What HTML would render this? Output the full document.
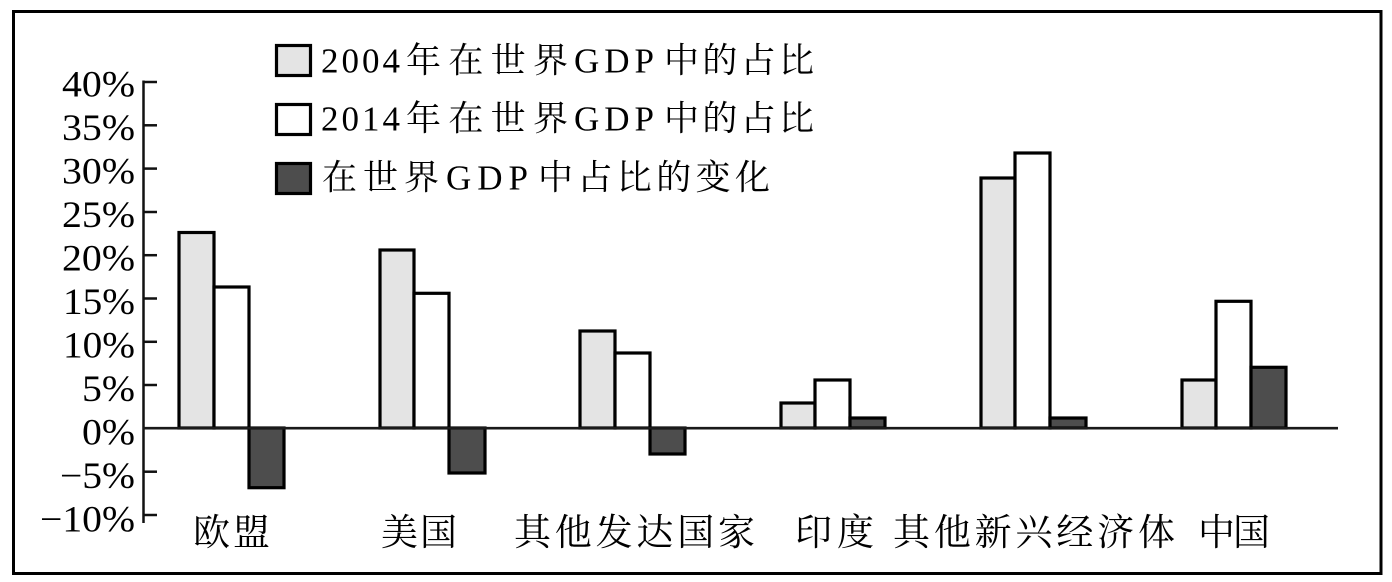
<!DOCTYPE html>
<html>
<head>
<meta charset="utf-8">
<style>
  html, body { margin:0; padding:0; background:#fff; }
  body { width:1392px; height:582px; overflow:hidden; font-family: "Liberation Serif", "Noto Serif CJK SC", serif; }
  svg { display:block; }
  svg text { font-family: "Liberation Serif", "Noto Serif CJK SC", "Times New Roman", serif; fill:#000; }
</style>
</head>
<body>
<svg width="1392" height="582" viewBox="0 0 1392 582" xmlns="http://www.w3.org/2000/svg">
  <rect x="0" y="0" width="1392" height="582" fill="#fff"/>
  <!-- outer frame -->
  <rect x="13.5" y="11.5" width="1367.5" height="562" fill="none" stroke="#000" stroke-width="3"/>

  <!-- y axis -->
  <line x1="143.5" y1="80.5" x2="143.5" y2="523" stroke="#111" stroke-width="2.5"/>
  <g stroke="#111" stroke-width="2.5">
    <line x1="143" y1="82" x2="157" y2="82"/>
    <line x1="143" y1="125.3" x2="157" y2="125.3"/>
    <line x1="143" y1="168.6" x2="157" y2="168.6"/>
    <line x1="143" y1="212" x2="157" y2="212"/>
    <line x1="143" y1="255.2" x2="157" y2="255.2"/>
    <line x1="143" y1="298.5" x2="157" y2="298.5"/>
    <line x1="143" y1="341.8" x2="157" y2="341.8"/>
    <line x1="143" y1="385" x2="157" y2="385"/>
    <line x1="143" y1="471.7" x2="157" y2="471.7"/>
    <line x1="143" y1="515" x2="157" y2="515"/>
  </g>

  <!-- y labels -->
  <g font-family="Liberation Serif, Times New Roman, serif" font-size="37" fill="#000">
    <text x="62" y="96.5" textLength="73" lengthAdjust="spacingAndGlyphs">40%</text>
    <text x="62" y="140" textLength="73" lengthAdjust="spacingAndGlyphs">35%</text>
    <text x="62" y="183.5" textLength="73" lengthAdjust="spacingAndGlyphs">30%</text>
    <text x="62" y="227" textLength="73" lengthAdjust="spacingAndGlyphs">25%</text>
    <text x="62" y="270.5" textLength="73" lengthAdjust="spacingAndGlyphs">20%</text>
    <text x="63" y="314" textLength="72" lengthAdjust="spacingAndGlyphs">15%</text>
    <text x="63" y="357.5" textLength="72" lengthAdjust="spacingAndGlyphs">10%</text>
    <text x="82" y="401" textLength="53" lengthAdjust="spacingAndGlyphs">5%</text>
    <text x="82" y="444.5" textLength="53" lengthAdjust="spacingAndGlyphs">0%</text>
    <text x="60" y="488" textLength="75" lengthAdjust="spacingAndGlyphs">−5%</text>
    <text x="40" y="531.5" textLength="95" lengthAdjust="spacingAndGlyphs">−10%</text>
  </g>

  <!-- bars -->
  <g stroke="#000" stroke-width="3.2">
    <!-- EU -->
    <rect x="179" y="232.5" width="35" height="195.5" fill="#e4e4e4"/>
    <rect x="214" y="287" width="35" height="141" fill="#ffffff"/>
    <rect x="249" y="428" width="35" height="59.7" fill="#4d4d4d"/>
    <!-- US -->
    <rect x="380" y="250" width="34" height="178" fill="#e4e4e4"/>
    <rect x="414" y="293.3" width="35" height="134.7" fill="#ffffff"/>
    <rect x="449" y="428" width="36" height="45" fill="#4d4d4d"/>
    <!-- Other developed -->
    <rect x="580" y="331" width="35" height="97" fill="#e4e4e4"/>
    <rect x="615" y="353" width="35" height="75" fill="#ffffff"/>
    <rect x="650" y="428" width="35" height="26" fill="#4d4d4d"/>
    <!-- India -->
    <rect x="781" y="403" width="34" height="25" fill="#e4e4e4"/>
    <rect x="815" y="380" width="35" height="48" fill="#ffffff"/>
    <rect x="850" y="418" width="35" height="10" fill="#4d4d4d"/>
    <!-- Other emerging -->
    <rect x="981" y="178" width="34" height="250" fill="#e4e4e4"/>
    <rect x="1015" y="153" width="35" height="275" fill="#ffffff"/>
    <rect x="1050" y="418" width="36" height="10" fill="#4d4d4d"/>
    <!-- China -->
    <rect x="1182" y="380" width="34" height="48" fill="#e4e4e4"/>
    <rect x="1216" y="301.3" width="35" height="126.7" fill="#ffffff"/>
    <rect x="1251" y="367.3" width="35" height="60.7" fill="#4d4d4d"/>
  </g>

  <!-- zero line -->
  <line x1="143" y1="428.2" x2="1338" y2="428.2" stroke="#1a1a1a" stroke-width="2.6"/>

  <!-- legend -->
  <g stroke="#000" stroke-width="3.2">
    <rect x="276.5" y="45.5" width="34" height="30" fill="#e4e4e4"/>
    <rect x="276.5" y="104.5" width="34" height="30" fill="#ffffff"/>
    <rect x="276.5" y="163.5" width="34" height="30" fill="#4d4d4d"/>
  </g>
  <g font-family="Liberation Serif, Noto Serif CJK SC, serif" font-size="35" fill="#000">
    <text x="321" y="72.5" textLength="79" lengthAdjust="spacing">2004</text>
    <text x="406" y="72.5" textLength="162" lengthAdjust="spacing">年在世界</text>
    <text x="574" y="72.5" textLength="80" lengthAdjust="spacing">GDP</text>
    <text x="664" y="72.5" textLength="150" lengthAdjust="spacing">中的占比</text>

    <text x="321" y="130.5" textLength="79" lengthAdjust="spacing">2014</text>
    <text x="406" y="130.5" textLength="162" lengthAdjust="spacing">年在世界</text>
    <text x="574" y="130.5" textLength="80" lengthAdjust="spacing">GDP</text>
    <text x="664" y="130.5" textLength="150" lengthAdjust="spacing">中的占比</text>

    <text x="322" y="189.5" textLength="117" lengthAdjust="spacing">在世界</text>
    <text x="446" y="189.5" textLength="82" lengthAdjust="spacing">GDP</text>
    <text x="538" y="189.5" textLength="232" lengthAdjust="spacing">中占比的变化</text>
  </g>

  <!-- category labels -->
  <g font-family="Liberation Serif, Noto Serif CJK SC, serif" font-size="37" fill="#000">
    <text x="193" y="545" textLength="77" lengthAdjust="spacing">欧盟</text>
    <text x="381" y="545" textLength="76" lengthAdjust="spacing">美国</text>
    <text x="514" y="545" textLength="241" lengthAdjust="spacing">其他发达国家</text>
    <text x="795" y="545" textLength="79" lengthAdjust="spacing">印度</text>
    <text x="893" y="545" textLength="282" lengthAdjust="spacing">其他新兴经济体</text>
    <text x="1198" y="545" textLength="72" lengthAdjust="spacing">中国</text>
  </g>
</svg>
</body>
</html>
